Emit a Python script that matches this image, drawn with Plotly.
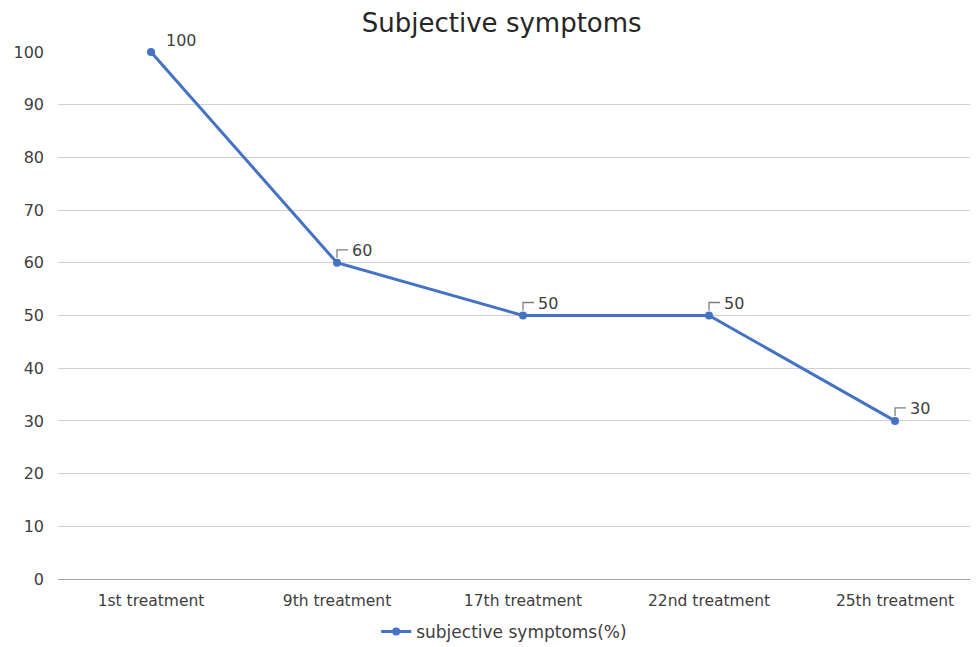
import plotly.graph_objects as go

categories = ["1st treatment", "9th treatment", "17th treatment", "22nd treatment", "25th treatment"]
values = [100, 60, 50, 50, 30]
series_name = "subjective symptoms(%)"
y_ticks = [0, 10, 20, 30, 40, 50, 60, 70, 80, 90, 100]

font_family = "DejaVu Sans, Liberation Sans, Arial, sans-serif"
blue = "#4472C4"
text_color = "#404040"

fig = go.Figure()
fig.add_trace(go.Scatter(
    x=list(range(len(categories))), y=values, name=series_name,
    mode="lines+markers",
    line=dict(color=blue, width=3),
    marker=dict(color=blue, size=8),
    cliponaxis=False,
    showlegend=True,
))

# data labels with leader-line brackets
for i, v in enumerate(values):
    fig.add_shape(type="path", xref="x", yref="y",
                  xsizemode="pixel", ysizemode="pixel",
                  xanchor=i, yanchor=v,
                  path="M 0 5 L 0 13 L 11 13",
                  line=dict(color="#7f7f7f", width=1.3))
    fig.add_annotation(x=i, y=v, xref="x", yref="y", text=str(v), showarrow=False,
                       xanchor="left", yanchor="middle", xshift=13, yshift=12,
                       font=dict(family=font_family, size=16, color=text_color))

fig.update_layout(
    width=970, height=639,
    margin=dict(l=50, r=0, t=44, b=68, autoexpand=False),
    paper_bgcolor="white", plot_bgcolor="white",
    title=dict(text="Subjective symptoms", x=0.509, xanchor="center", y=0.9765, yanchor="middle",
               font=dict(family=font_family, size=26, color="#262626")),
    font=dict(family=font_family, color=text_color, size=16),
    xaxis=dict(range=[-0.5, 4.446], tickmode="array",
               tickvals=list(range(len(categories))), ticktext=categories,
               showgrid=False, zeroline=False, showline=False, ticks="",
               ticklabelstandoff=10,
               tickfont=dict(size=15.5, color=text_color)),
    yaxis=dict(range=[0, 100], tickvals=y_ticks, showgrid=True, gridcolor="#d0d0d0", gridwidth=1,
               zeroline=True, zerolinecolor="#a6a6a6", zerolinewidth=1.3, showline=False, ticks="",
               ticklabelstandoff=13,
               tickfont=dict(size=16, color=text_color)),
    legend=dict(orientation="h", x=0.485, xanchor="center", y=-0.1006, yanchor="middle",
                font=dict(size=17, color=text_color), itemwidth=30),
)

fig.write_html("out.html")
